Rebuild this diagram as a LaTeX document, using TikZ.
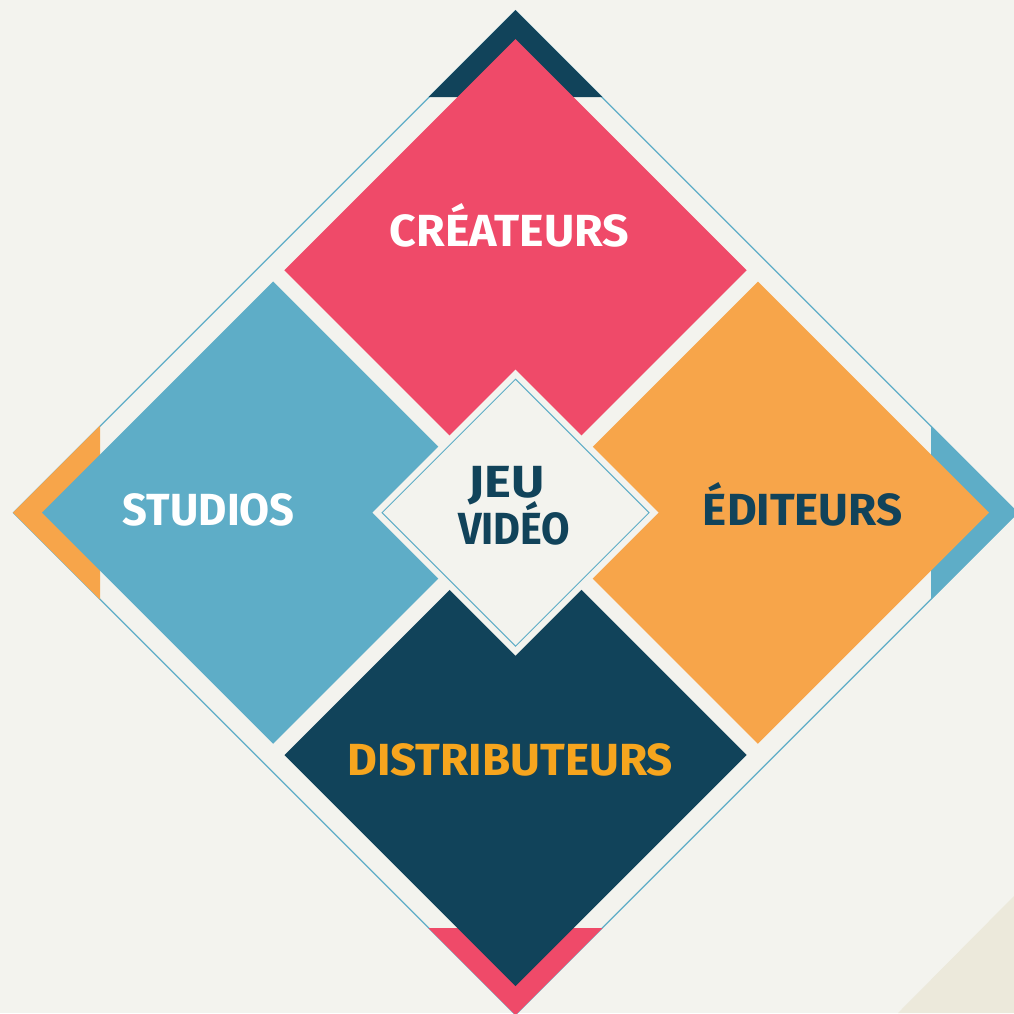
\documentclass[tikz,border=0pt]{standalone}
\usepackage{fontspec}
\setmainfont{Fira Sans}
\usetikzlibrary{calc}
\definecolor{bgc}{HTML}{F3F3EE}
\definecolor{beige}{HTML}{ECE9DB}
\definecolor{pinkc}{HTML}{EF4A69}
\definecolor{bluec}{HTML}{5EADC7}
\definecolor{orangec}{HTML}{F7A54A}
\definecolor{navyc}{HTML}{11435A}
\definecolor{orangetxt}{HTML}{F6A51E}
\newlength\lblw
\newcommand\fitto[2]{\settowidth\lblw{#2}\pgfmathsetmacro\lblsf{#1/\lblw}\scalebox{\lblsf}[1]{#2}}
\tikzset{
  lbl/.style={font=\fontsize{45}{45}\selectfont\bfseries, inner sep=0pt, anchor=base},
  outline/.style={draw=bluec, line width=1.3pt},
  gapband/.style={draw=bgc, line width=15.6pt}
}
\begin{document}
\begin{tikzpicture}[x=1pt,y=-1pt]
\useasboundingbox (0,0) rectangle (1014,1013);
\fill[bgc] (0,0) rectangle (1014,1013);
\fill[beige] (1014,896) -- (1014,1013) -- (898,1013) -- cycle;
\coordinate (C) at (515.5,512.7);
% outer thin outline
\draw[outline] ($(C)+(0,-502)$) -- ($(C)+(502,0)$) -- ($(C)+(0,502)$) -- ($(C)+(-502,0)$) -- cycle;
% chevron tips
\fill[navyc] ($(C)+(0,-502.5)$) -- ($(C)+(87,-415.5)$) -- ($(C)+(-87,-415.5)$) -- cycle;
\fill[pinkc] ($(C)+(0,502.5)$) -- ($(C)+(87,415.5)$) -- ($(C)+(-87,415.5)$) -- cycle;
\fill[orangec] ($(C)+(-502.5,0)$) -- ($(C)+(-415.5,87)$) -- ($(C)+(-415.5,-87)$) -- cycle;
\fill[bluec] ($(C)+(502.5,0)$) -- ($(C)+(415.5,87)$) -- ($(C)+(415.5,-87)$) -- cycle;
% quadrant diamonds
\fill[pinkc] ($(C)+(0,-473.5)$) -- ($(C)+(236.75,-236.75)$) -- (C) -- ($(C)+(-236.75,-236.75)$) -- cycle;
\fill[bluec] ($(C)+(-473.5,0)$) -- ($(C)+(-236.75,-236.75)$) -- (C) -- ($(C)+(-236.75,236.75)$) -- cycle;
\fill[orangec] ($(C)+(473.5,0)$) -- ($(C)+(236.75,-236.75)$) -- (C) -- ($(C)+(236.75,236.75)$) -- cycle;
\fill[navyc] ($(C)+(0,473.5)$) -- ($(C)+(236.75,236.75)$) -- (C) -- ($(C)+(-236.75,236.75)$) -- cycle;
% gaps
\draw[gapband] ($(C)+(-240,-240)$) -- ($(C)+(240,240)$);
\draw[gapband] ($(C)+(240,-240)$) -- ($(C)+(-240,240)$);
% centre diamond
\fill[bgc] ($(C)+(0,-143)$) -- ($(C)+(143,0)$) -- ($(C)+(0,143)$) -- ($(C)+(-143,0)$) -- cycle;
\draw[draw=bluec, line width=1pt] ($(C)+(0,-133.5)$) -- ($(C)+(133.5,0)$) -- ($(C)+(0,133.5)$) -- ($(C)+(-133.5,0)$) -- cycle;
% labels
\node[lbl, text=white] (crea) at (509.5,246) {\fitto{239.6}{CRÉATEURS}};
\node[lbl, text=white] (stud) at (208.8,525) {\fitto{171.7}{STUDIOS}};
\node[lbl, text=navyc] (edit) at (802.8,525.7) {\fitto{199.7}{ÉDITEURS}};
\node[lbl, text=orangetxt] (dist) at (510.2,775.7) {\fitto{325.7}{DISTRIBUTEURS}};
\node[lbl, text=navyc] (jeu) at (506.2,497.7) {\fitto{76.3}{JEU}};
\node[lbl, text=navyc] (video) at (514.2,544.3) {\fitto{112.3}{VIDÉO}};
\end{tikzpicture}
\end{document}
